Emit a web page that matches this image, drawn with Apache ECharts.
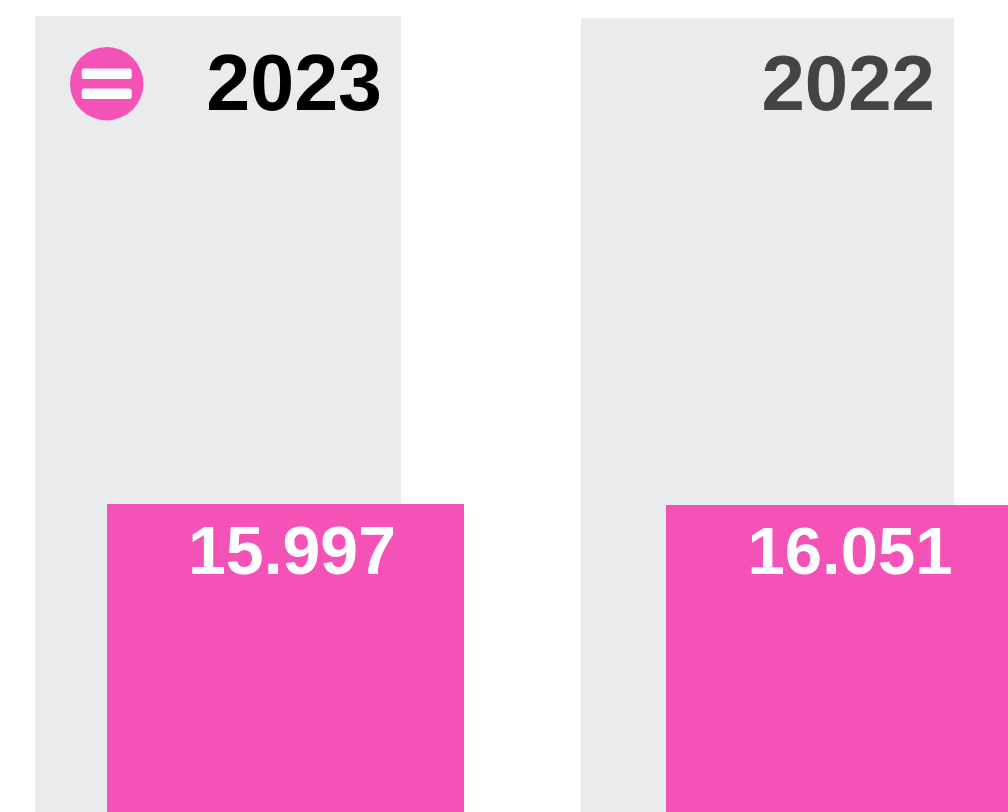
<!DOCTYPE html>
<html>
<head>
<meta charset="utf-8">
<style>html,body{margin:0;padding:0;background:#fff}#c{width:1008px;height:812px}</style>
<script src="https://cdn.jsdelivr.net/npm/echarts@6/dist/echarts.min.js"></script>
</head>
<body>
<div id="c"></div>
<script>
const years = ['2023', '2022'];
const backdropValues = [41.34, 41.51];
const pinkValues = [15.997, 16.051];
const pinkLabels = ['15.997', '16.051'];

const FONT = '"Liberation Sans", Arial, Helvetica, sans-serif';
const PINK = '#F552B7';
const GREY = '#EAEBED';
const yearColors = ['#000000', '#444444'];
const panels = [
  { top: 16, height: 796, greyLeft: 35, greyWidth: 366, pinkLeft: 107, pinkWidth: 357, yearSize: 79, valueSize: 68, yearOffset: [-19, 33], valueOffset: [6.5, 17] },
  { top: 18, height: 794, greyLeft: 581, greyWidth: 373, pinkLeft: 666, pinkWidth: 342, yearSize: 78, valueSize: 67, yearOffset: [-19, 31], valueOffset: [13, 17] }
];

const grid = [], xAxis = [], yAxis = [], series = [];
panels.forEach((p, i) => {
  [[p.greyLeft, p.greyWidth], [p.pinkLeft, p.pinkWidth]].forEach(([left, width]) => {
    const idx = grid.length;
    grid.push({ left, width, top: p.top, height: p.height, containLabel: false });
    xAxis.push({ type: 'category', gridIndex: idx, data: [years[i]], show: false, boundaryGap: true });
    yAxis.push({ type: 'value', gridIndex: idx, min: 0, max: backdropValues[i], show: false });
  });
  series.push({
    type: 'bar', xAxisIndex: i * 2, yAxisIndex: i * 2, z: 2,
    barWidth: '100%', silent: true,
    data: [backdropValues[i]],
    itemStyle: { color: GREY },
    label: {
      show: true, position: 'insideTopRight', distance: 0, offset: p.yearOffset,
      formatter: years[i], color: yearColors[i],
      fontFamily: FONT, fontWeight: 'bold', fontSize: p.yearSize
    }
  });
  series.push({
    type: 'bar', xAxisIndex: i * 2 + 1, yAxisIndex: i * 2 + 1, z: 3,
    barWidth: '100%', silent: true,
    data: [pinkValues[i]],
    itemStyle: { color: PINK },
    label: {
      show: true, position: 'insideTop', distance: 0, offset: p.valueOffset,
      formatter: pinkLabels[i], color: '#ffffff',
      fontFamily: FONT, fontWeight: 'bold', fontSize: p.valueSize
    }
  });
});

const chart = echarts.init(document.getElementById('c'), null, { renderer: 'canvas' });
chart.setOption({
  animation: false,
  backgroundColor: '#ffffff',
  grid, xAxis, yAxis, series,
  graphic: [
    { type: 'circle', shape: { cx: 106.7, cy: 83.7, r: 36.7 }, style: { fill: PINK }, z: 10 },
    { type: 'rect', shape: { x: 81.7, y: 68.5, width: 50, height: 10.5, r: 2.5 }, style: { fill: '#ffffff' }, z: 11 },
    { type: 'rect', shape: { x: 81.7, y: 88.5, width: 50, height: 10.5, r: 2.5 }, style: { fill: '#ffffff' }, z: 11 }
  ]
});
</script>
</body>
</html>
